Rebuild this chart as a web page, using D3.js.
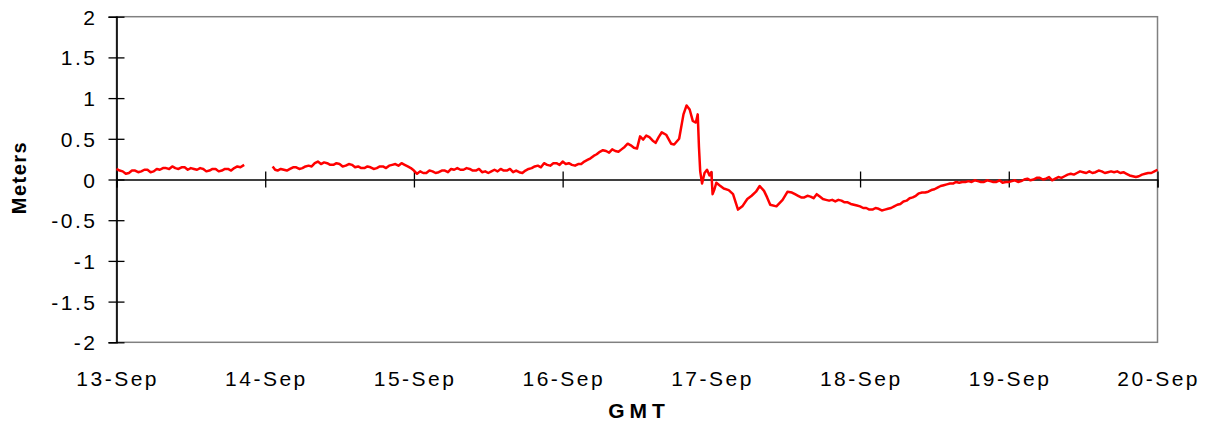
<!DOCTYPE html>
<html>
<head>
<meta charset="utf-8">
<script src="https://cdn.jsdelivr.net/npm/d3@7"></script>
<style>
  html, body { margin: 0; padding: 0; background: #fff; }
  svg { display: block; }
  text { font-family: "Liberation Sans", Arial, sans-serif; fill: #000; }
</style>
</head>
<body>
<svg id="chart" width="1213" height="428"></svg>
<script>
// ---- data ----
// [hours since 13-Sep 00:00 GMT, water level in meters]; null = data gap
const readings = [
  [0,0.13],[0.5,0.11],[1,0.10],[1.5,0.07],[2,0.08],[2.5,0.11],[3,0.11],[3.5,0.09],[4,0.10],[4.5,0.12],
  [5,0.12],[5.5,0.09],[6,0.10],[6.5,0.13],[7,0.12],[7.5,0.14],[8,0.14],[8.5,0.13],[9,0.16],[9.5,0.14],
  [10,0.13],[10.5,0.15],[11,0.15],[11.5,0.12],[12,0.14],[12.5,0.13],[13,0.12],[13.5,0.14],[14,0.13],[14.5,0.10],
  [15,0.11],[15.5,0.13],[16,0.13],[16.5,0.10],[17,0.11],[17.5,0.13],[18,0.13],[18.5,0.11],[19,0.14],[19.5,0.16],
  [20,0.15],[20.6,0.18],[21,null],
  [25.2,0.16],[25.6,0.12],[26,0.11],[26.5,0.13],[27,0.12],[27.5,0.11],[28,0.13],[28.5,0.15],[29,0.15],[29.5,0.13],
  [30,0.14],[30.5,0.16],[31,0.17],[31.5,0.16],[32,0.20],[32.5,0.22],[33,0.19],[33.5,0.21],[34,0.20],[34.5,0.18],
  [35,0.18],[35.5,0.20],[36,0.19],[36.5,0.16],[37,0.17],[37.5,0.19],[38,0.18],[38.5,0.15],[39,0.16],[39.5,0.14],
  [40,0.14],[40.5,0.16],[41,0.15],[41.5,0.13],[42,0.14],[42.5,0.16],[43,0.16],[43.5,0.14],[44,0.17],[44.5,0.18],
  [45,0.19],[45.5,0.17],[46,0.20],[46.5,0.18],[47,0.16],[47.5,0.14],
  [48,0.11],[48.5,0.07],[49,0.10],[49.5,0.08],[50,0.08],[50.5,0.11],[51,0.10],[51.5,0.08],[52,0.09],[52.5,0.11],
  [53,0.11],[53.5,0.09],[54,0.13],[54.5,0.12],[55,0.14],[55.5,0.12],[56,0.12],[56.5,0.14],[57,0.13],[57.5,0.11],
  [58,0.11],[58.5,0.13],[59,0.09],[59.5,0.10],[60,0.08],[60.5,0.10],[61,0.12],[61.5,0.10],[62,0.13],[62.5,0.11],
  [63,0.11],[63.5,0.13],[64,0.09],[64.5,0.11],[65,0.09],[65.5,0.08],[66,0.11],[66.5,0.13],[67,0.14],[67.5,0.16],
  [68,0.17],[68.5,0.15],[69,0.20],[69.5,0.18],[70,0.17],[70.5,0.20],[71,0.20],[71.5,0.18],
  [72,0.22],[72.5,0.19],[73,0.20],[73.5,0.18],[74,0.17],[74.5,0.19],[75,0.19],[75.5,0.22],[76,0.24],[76.5,0.26],
  [77,0.29],[77.5,0.31],[78,0.34],[78.5,0.36],[79,0.35],[79.5,0.33],[80,0.37],[80.5,0.35],[81,0.34],[81.5,0.37],
  [82,0.40],[82.5,0.44],[83,0.42],[83.5,0.39],[84,0.38],[84.5,0.53],[85,0.49],[85.5,0.54],[86,0.52],[86.5,0.48],
  [87,0.45],[87.5,0.52],[88,0.58],[88.7,0.55],[89.5,0.44],[90,0.43],[90.8,0.50],[91.5,0.80],[92,0.91],[92.5,0.86],
  [93,0.72],[93.5,0.70],[93.8,0.80],[94,0.40],[94.2,0.10],[94.5,-0.05],[94.9,0.08],[95.3,0.12],[95.7,0.05],
  [96,0.09],[96.2,-0.18],[96.5,-0.12],[96.8,-0.04],[97.3,-0.07],[98,-0.11],[98.8,-0.13],[99.5,-0.18],[100,-0.30],[100.3,-0.37],
  [101,-0.33],[101.8,-0.24],[102.5,-0.20],[103.2,-0.15],[103.8,-0.08],[104.5,-0.14],[105,-0.22],[105.5,-0.31],[106.5,-0.33],[107.5,-0.25],
  [108.3,-0.15],[109,-0.16],[109.5,-0.18],[110,-0.20],[110.5,-0.22],[111,-0.22],[111.5,-0.20],[112,-0.21],[112.5,-0.23],[113,-0.18],
  [113.5,-0.21],[114,-0.24],[114.5,-0.25],[115,-0.26],[115.5,-0.25],[116,-0.27],[116.5,-0.25],[117,-0.26],[117.5,-0.28],[118,-0.28],
  [118.5,-0.30],[119,-0.31],[119.5,-0.32],
  [120,-0.33],[120.5,-0.35],[121,-0.35],[121.5,-0.37],[122,-0.37],[122.5,-0.35],[123,-0.36],[123.5,-0.38],[124,-0.37],[124.5,-0.36],
  [125,-0.35],[125.5,-0.33],[126,-0.31],[126.5,-0.30],[127,-0.27],[127.5,-0.26],[128,-0.23],[128.5,-0.22],[129,-0.20],[129.5,-0.17],
  [130,-0.16],[130.5,-0.16],[131,-0.15],[131.5,-0.13],[132,-0.12],[132.5,-0.10],[133,-0.08],[133.5,-0.07],[134,-0.06],[134.5,-0.05],
  [135,-0.05],[135.5,-0.03],[136,-0.04],[136.5,-0.03],[137,-0.03],[137.5,-0.02],[138,-0.03],[138.5,-0.01],[139,-0.02],[139.5,-0.03],
  [140,-0.03],[140.5,-0.01],[141,-0.02],[141.5,-0.03],[142,-0.03],[142.5,-0.01],[143,-0.04],[143.5,-0.03],
  [144,-0.03],[144.5,-0.02],[145,-0.01],[145.5,-0.03],[146,-0.02],[146.5,0.00],[147,0.01],[147.5,-0.01],[148,0.00],[148.5,0.02],
  [149,0.02],[149.5,0.00],[150,0.01],[150.5,0.03],[151,-0.01],[151.5,0.01],[152,0.03],[152.5,0.02],[153,0.04],[153.5,0.06],
  [154,0.07],[154.5,0.06],[155,0.08],[155.5,0.10],[156,0.09],[156.5,0.08],[157,0.10],[157.5,0.08],[158,0.09],[158.5,0.11],
  [159,0.10],[159.5,0.08],[160,0.09],[160.5,0.10],[161,0.09],[161.5,0.10],[162,0.08],[162.5,0.09],[163,0.07],[163.5,0.05],
  [164,0.04],[164.5,0.03],[165,0.04],[165.5,0.06],[166,0.07],[166.5,0.08],[167,0.08],[167.5,0.10],[168,0.12]
];
const dayTicks = [0, 24, 48, 72, 96, 120, 144, 168];
const dayLabels = ["13-Sep", "14-Sep", "15-Sep", "16-Sep", "17-Sep", "18-Sep", "19-Sep", "20-Sep"];
const yTicks = [2, 1.5, 1, 0.5, 0, -0.5, -1, -1.5, -2];
const yTickLabels = ["2", "1.5", "1", "0.5", "0", "-0.5", "-1", "-1.5", "-2"];
const yTitle = "Meters";
const xTitle = "GMT";

// ---- layout ----
const L = 116.5, R = 1157.5, T = 16.7, B = 342.3;
const svg = d3.select("#chart");

const x = d3.scaleLinear().domain([0, 168]).range([L, R]);
const y = d3.scaleLinear().domain([-2, 2]).range([B, T]);

// frame (grey)
svg.append("rect")
  .attr("x", L).attr("y", T).attr("width", R - L).attr("height", B - T)
  .attr("fill", "none").attr("stroke", "#808080").attr("stroke-width", 1.5);

// y axis: outer ticks with labels
const gyOuter = svg.append("g").attr("transform", `translate(${L},0)`)
  .call(d3.axisLeft(y).tickValues(yTicks).tickSize(8).tickPadding(11)
    .tickFormat((d, i) => yTickLabels[i]));
gyOuter.selectAll("text")
  .style("font-family", '"Liberation Sans", Arial, sans-serif')
  .style("font-size", "21px").style("letter-spacing", "2.5px")
  .attr("dy", "0.36em").attr("fill", "#000");
// inner ticks
const gyInner = svg.append("g").attr("transform", `translate(${L},0)`)
  .call(d3.axisLeft(y).tickValues(yTicks).tickSize(-8).tickFormat(""));
gyInner.select(".domain").remove();
[gyOuter, gyInner].forEach(g => {
  g.selectAll("line").attr("stroke", "#000").attr("stroke-width", 1.3);
  g.selectAll(".domain").attr("stroke", "#000").attr("stroke-width", 1.6);
});

// x axis along zero line, ticks crossing
const gxDown = svg.append("g").attr("transform", `translate(0,${y(0)})`)
  .call(d3.axisBottom(x).tickValues(dayTicks).tickSize(8).tickFormat(""));
const gxUp = svg.append("g").attr("transform", `translate(0,${y(0)})`)
  .call(d3.axisTop(x).tickValues(dayTicks).tickSize(8).tickFormat(""));
gxUp.select(".domain").remove();
[gxDown, gxUp].forEach(g => {
  g.selectAll("line").attr("stroke", "#000").attr("stroke-width", 1.3);
  g.selectAll(".domain").attr("stroke", "#000").attr("stroke-width", 1.3);
});

// x tick labels at the bottom
svg.append("g").selectAll("text").data(dayTicks).join("text")
  .attr("x", d => x(d) + 1.2).attr("y", 386)
  .attr("text-anchor", "middle")
  .style("font-size", "21px").style("letter-spacing", "2.5px")
  .text((d, i) => dayLabels[i]);

// axis titles
svg.append("text")
  .attr("transform", `translate(26,177.5) rotate(-90)`)
  .attr("text-anchor", "middle")
  .style("font-size", "20px").style("font-weight", "bold").style("letter-spacing", "1.5px")
  .text(yTitle);
svg.append("text")
  .attr("x", 639).attr("y", 418)
  .attr("text-anchor", "middle")
  .style("font-size", "21px").style("font-weight", "bold").style("letter-spacing", "5px")
  .text(xTitle);

// series line
const series = readings.map(([h, v]) => ({ h, v }));
const line = d3.line()
  .defined(d => d.v !== null)
  .x(d => x(d.h)).y(d => y(d.v));
svg.append("path").datum(series)
  .attr("d", line)
  .attr("fill", "none").attr("stroke", "#ff0000")
  .attr("stroke-width", 2.5).attr("stroke-linejoin", "round");
</script>
</body>
</html>
